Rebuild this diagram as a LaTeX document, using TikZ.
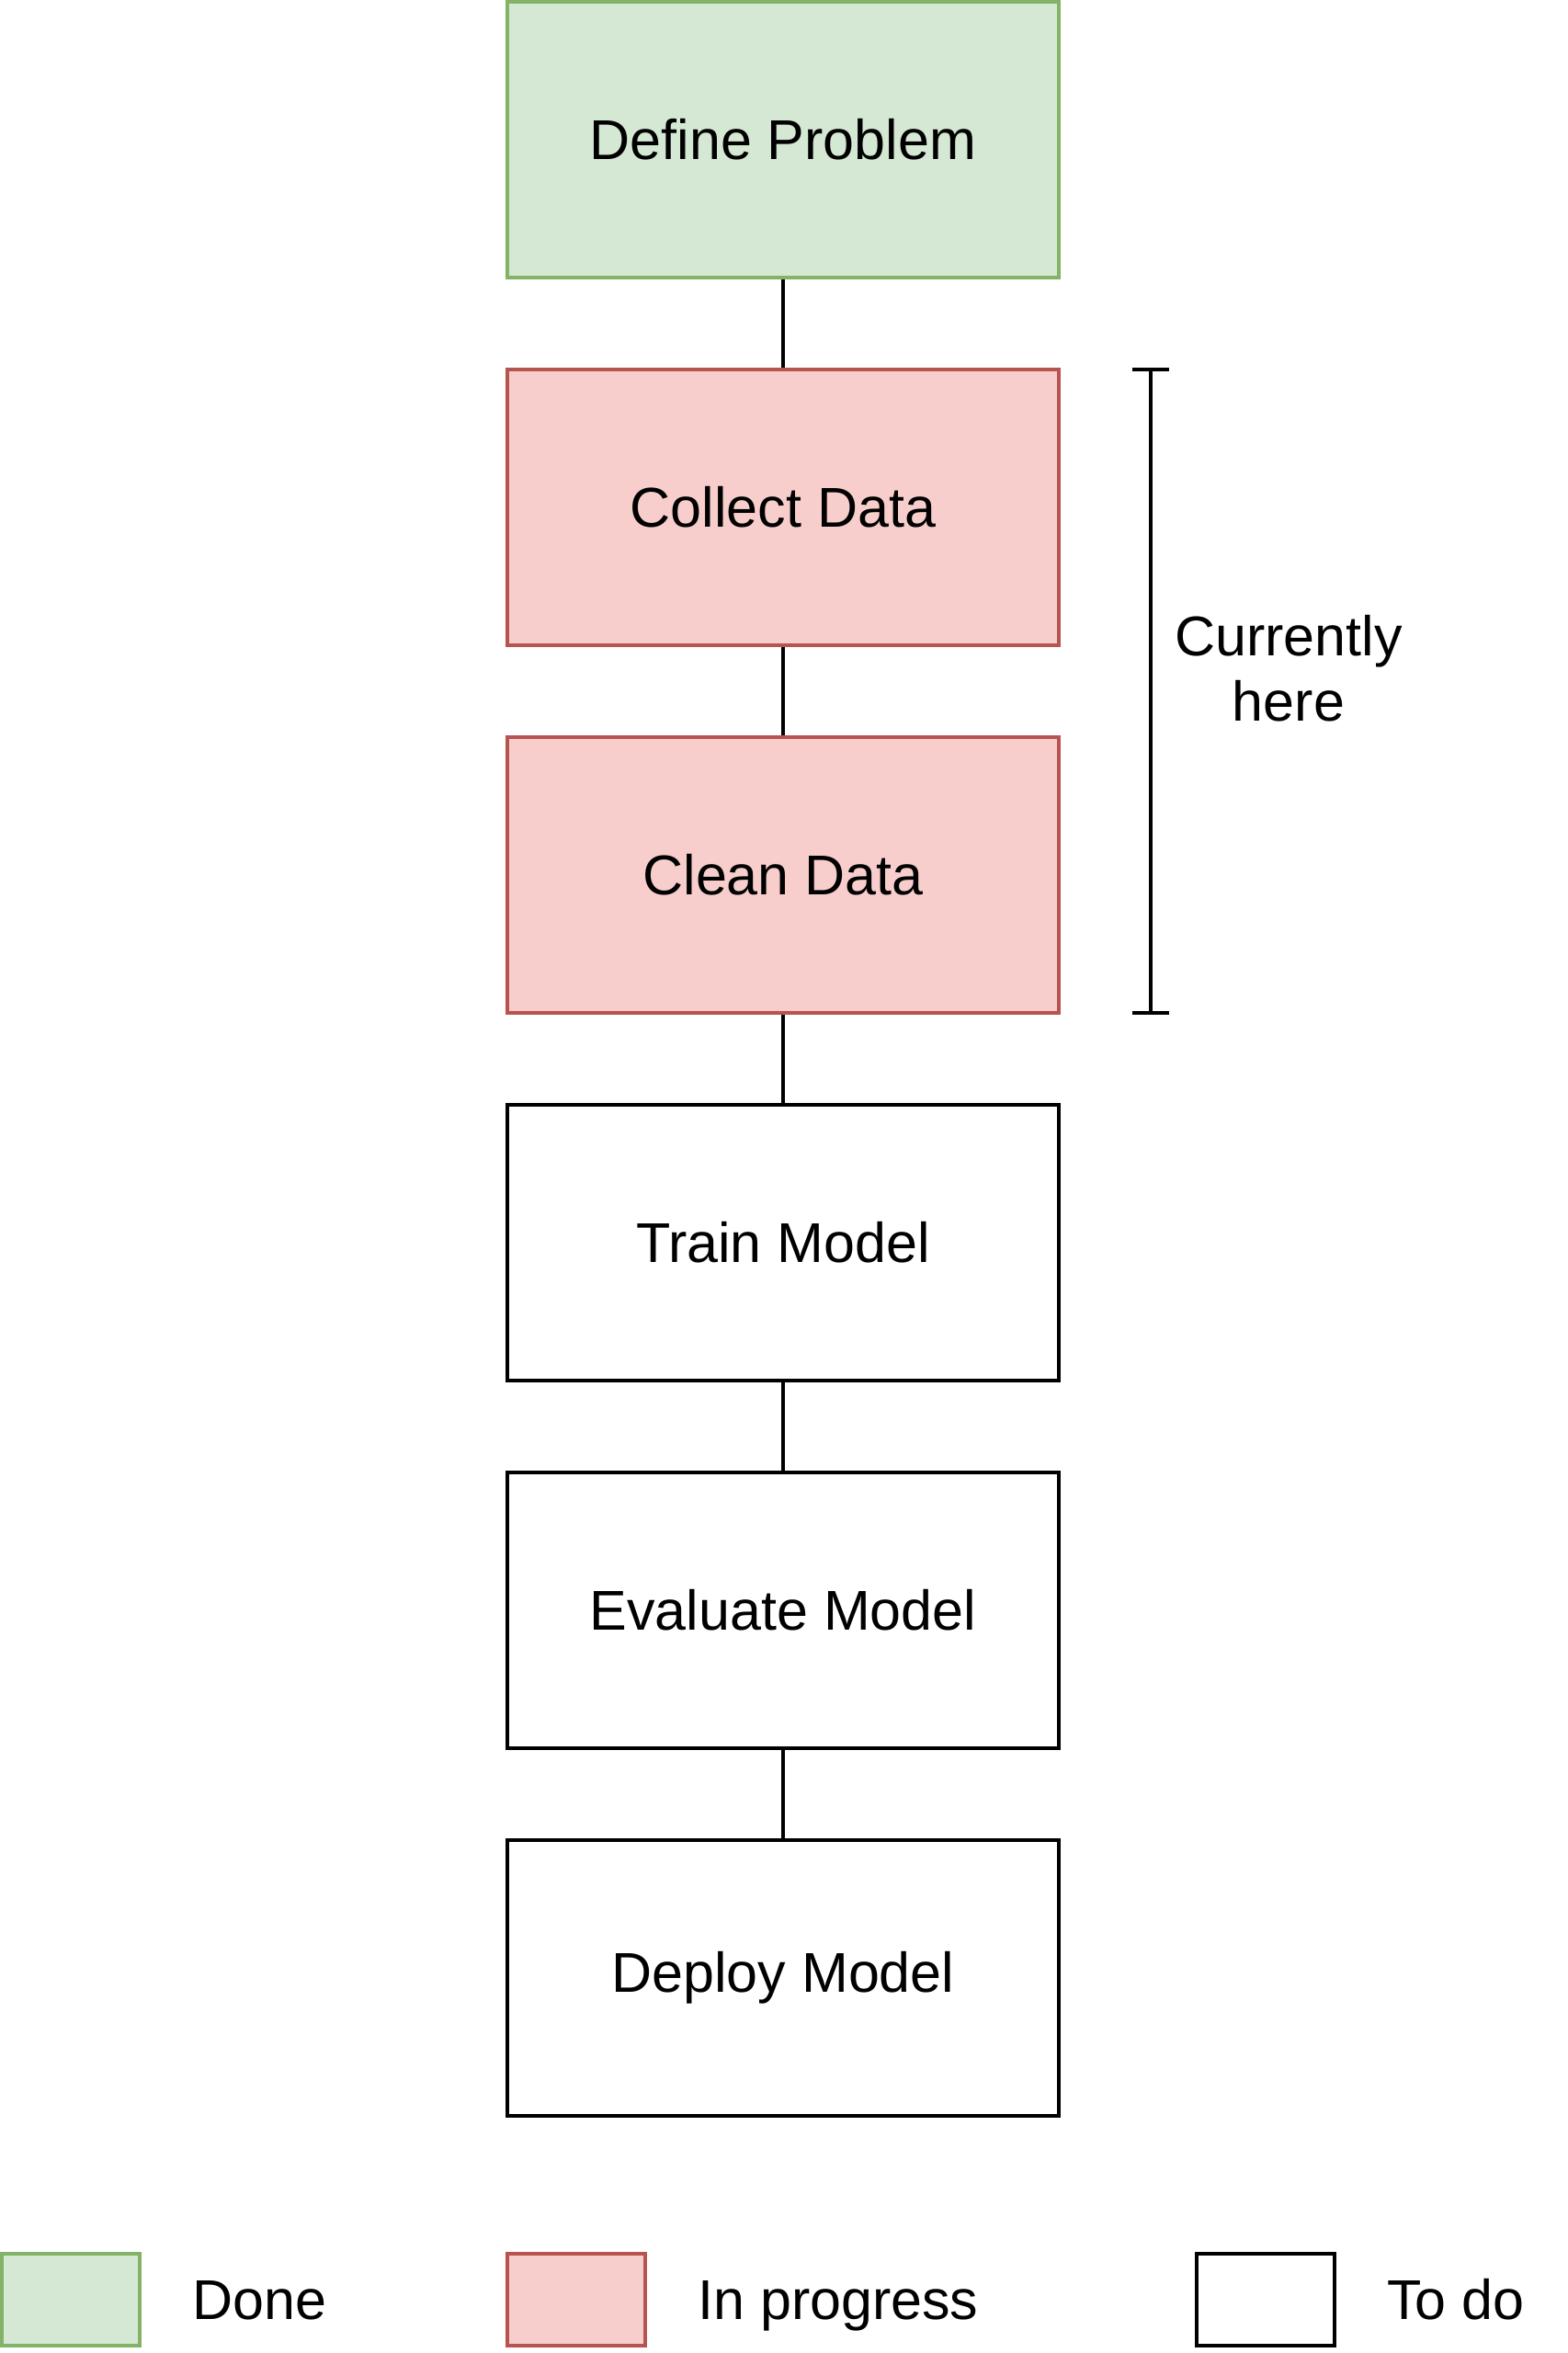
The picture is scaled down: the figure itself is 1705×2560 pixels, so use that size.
\documentclass[tikz,border=0pt]{standalone}
\usepackage{fontspec}
\setmainfont{Liberation Sans}
\definecolor{doneline}{HTML}{82B366}
\definecolor{donefill}{HTML}{D5E8D4}
\definecolor{progline}{HTML}{B85450}
\definecolor{progfill}{HTML}{F8CECC}
\begin{document}
\begin{tikzpicture}[x=0.5pt,y=-0.5pt,
  stage/.style={rectangle,line width=2.2pt,minimum width=300pt,minimum height=150pt,inner sep=0pt,
    font=\fontsize{30.5}{35.5}\selectfont},
  donebox/.style={stage,draw=doneline,fill=donefill},
  progbox/.style={stage,draw=progline,fill=progfill},
  todobox/.style={stage,draw=black,fill=white},
  legbox/.style={rectangle,line width=2.2pt,minimum width=75pt,minimum height=50pt,inner sep=0pt},
  legtext/.style={inner sep=0pt,anchor=base west,font=\fontsize{30.5}{35.5}\selectfont},
  conn/.style={line width=2.2pt,draw=black}]
\useasboundingbox (0,0) rectangle (1705,2560);
\node[donebox] (define) at (852,152) {Define Problem};
\node[progbox] (collect) at (852,552) {Collect Data};
\node[progbox] (clean) at (852,952) {Clean Data};
\node[todobox] (train) at (852,1352) {Train Model};
\node[todobox] (eval) at (852,1752) {Evaluate Model};
\node[todobox] (deploy) at (852,2152) {Deploy Model};
\draw[conn] (define.south) -- (collect.north);
\draw[conn] (collect.south) -- (clean.north);
\draw[conn] (clean.south) -- (train.north);
\draw[conn] (train.south) -- (eval.north);
\draw[conn] (eval.south) -- (deploy.north);
% bracket
\coordinate (bt) at (1252,402);
\coordinate (bb) at (1252,1102);
\coordinate (btl) at (1232,402);
\coordinate (btr) at (1272,402);
\coordinate (bbl) at (1232,1102);
\coordinate (bbr) at (1272,1102);
\draw[conn] (bt) -- (bb);
\draw[conn] (btl) -- (btr);
\draw[conn] (bbl) -- (bbr);
\node[align=center,inner sep=0pt,font=\fontsize{30.5}{35.5}\selectfont] (cur) at (1402,727) {Currently\\here};
% legend
\node[legbox,draw=doneline,fill=donefill] (ldone) at (77,2502) {};
\node[legbox,draw=progline,fill=progfill] (lprog) at (627,2502) {};
\node[legbox,draw=black,fill=white] (ltodo) at (1377,2502) {};
\node[legtext] (tdone) at (209,2523) {Done};
\node[legtext] (tprog) at (759,2523) {In progress};
\node[legtext] (ttodo) at (1509,2523) {To do};
\end{tikzpicture}
\end{document}
